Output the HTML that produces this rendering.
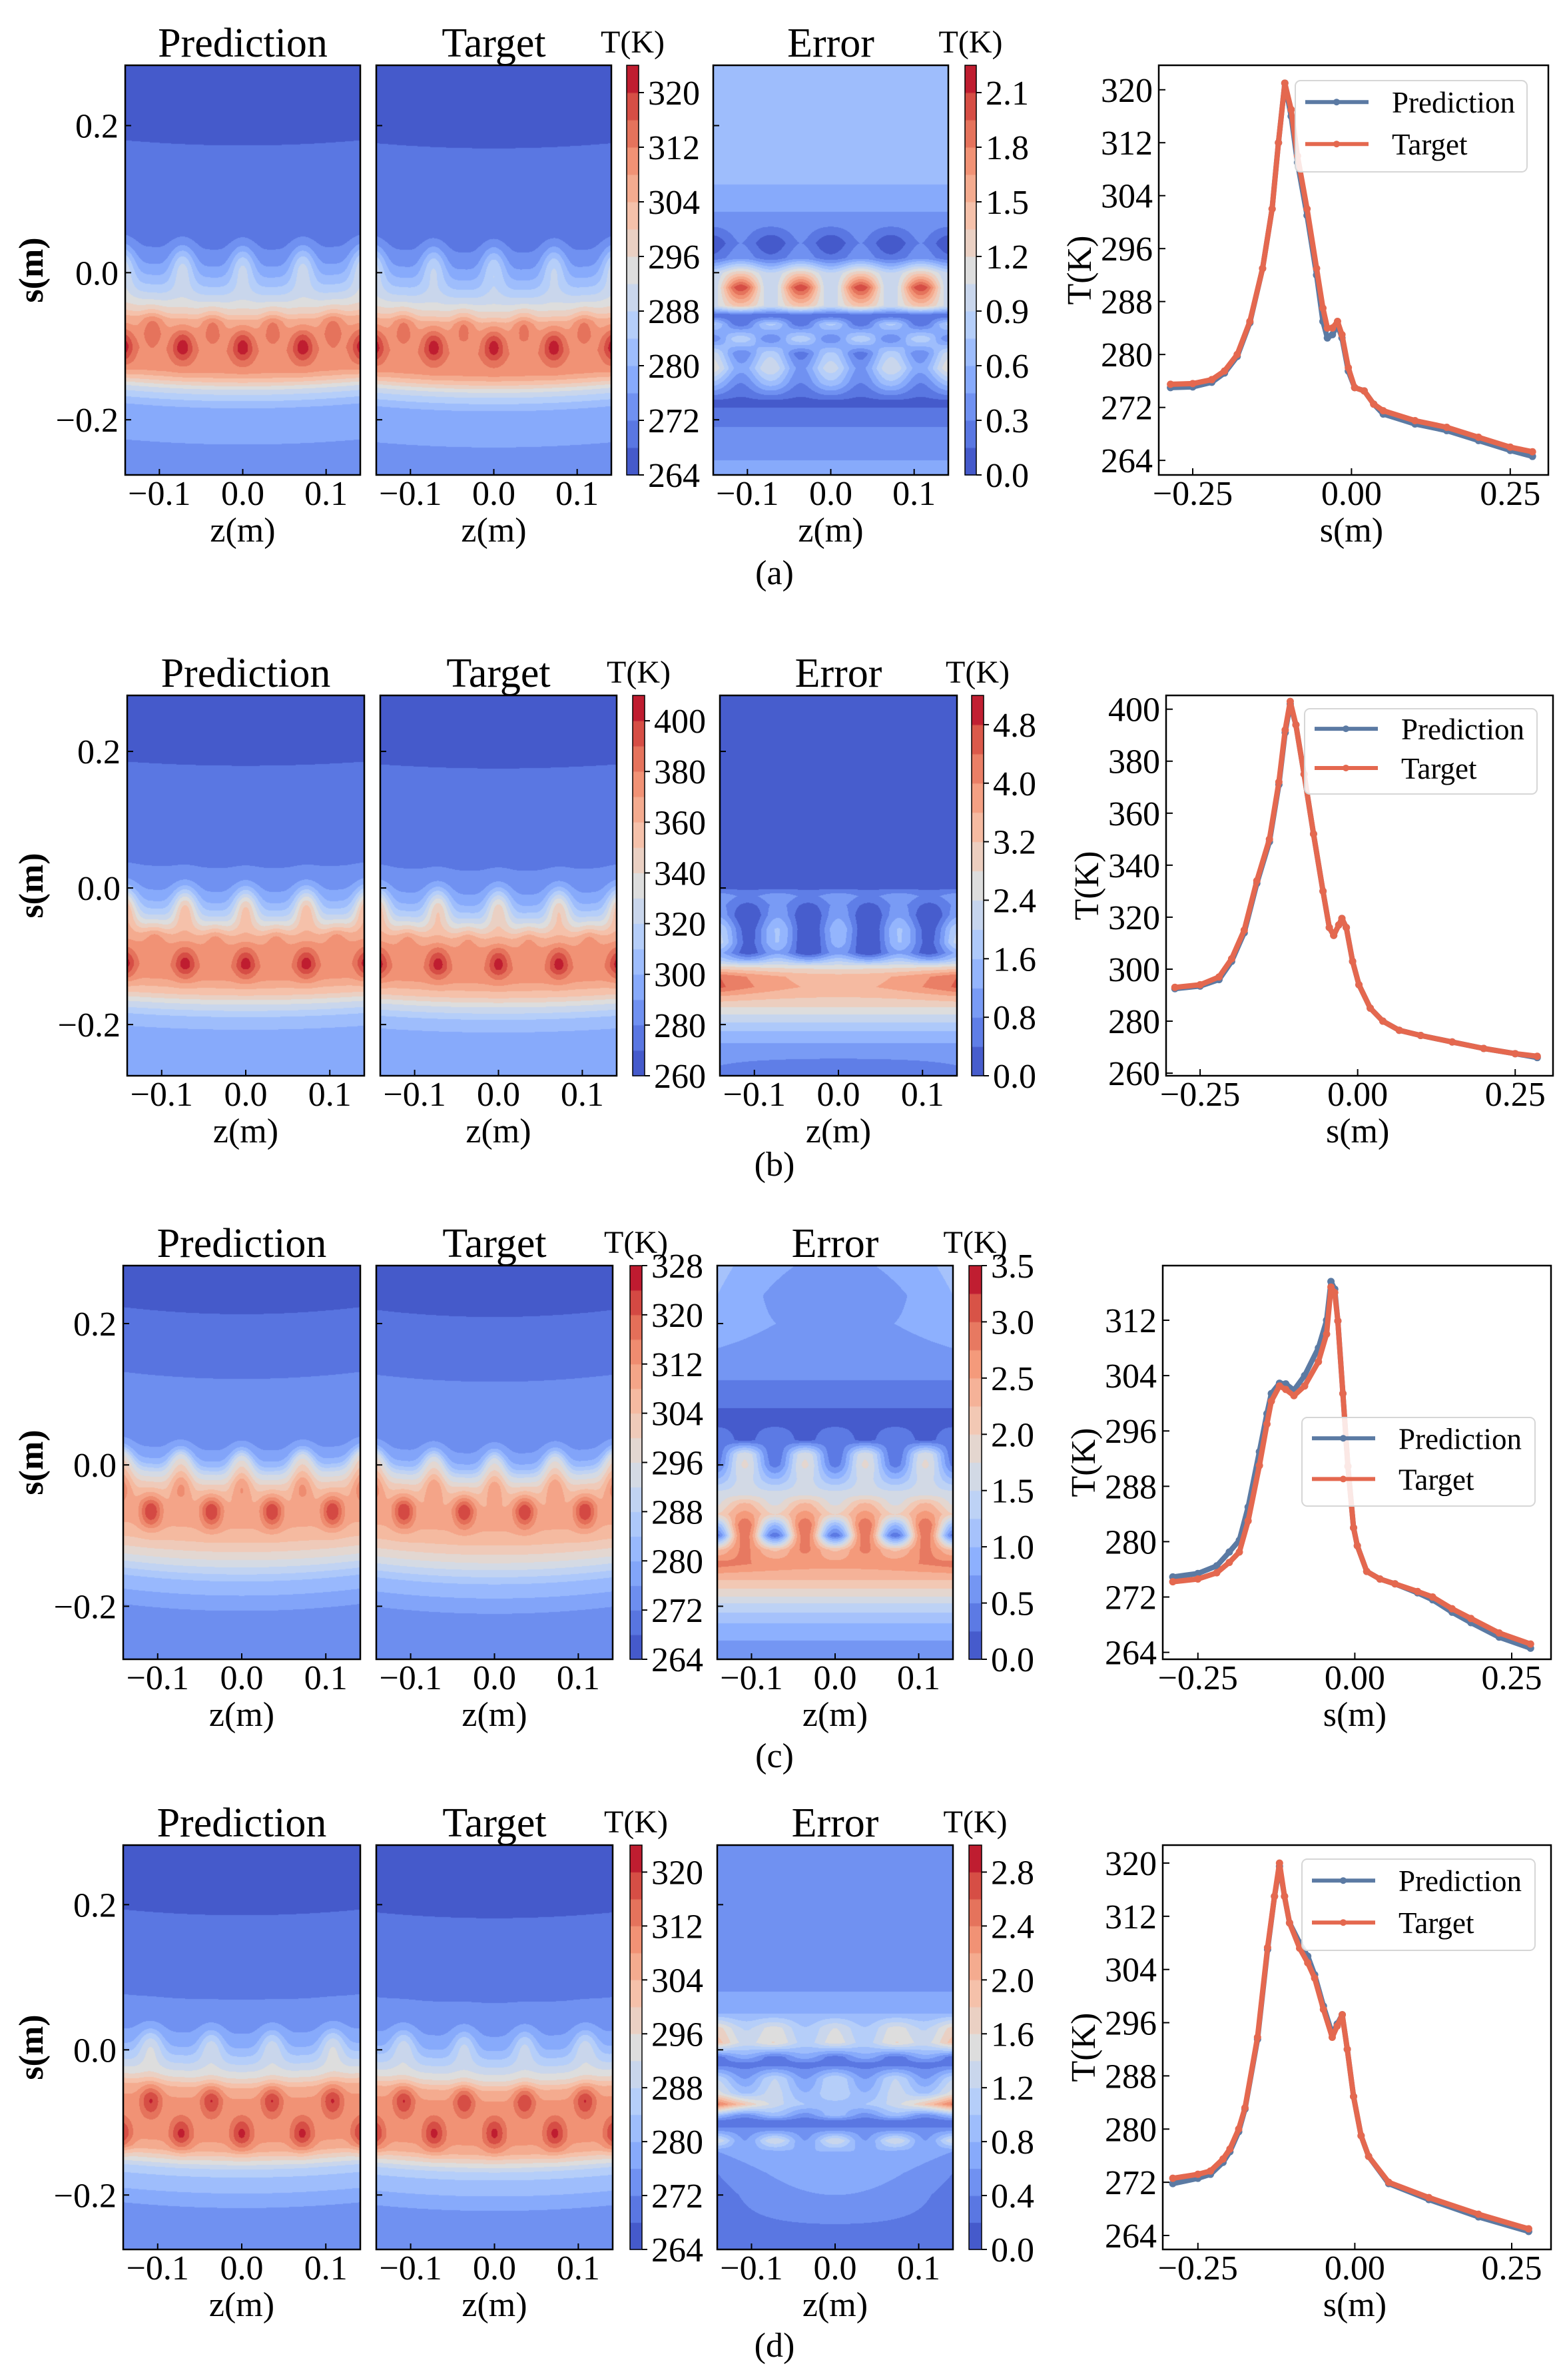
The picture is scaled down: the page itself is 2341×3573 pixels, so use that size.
<!DOCTYPE html>
<html><head><meta charset="utf-8"><title>Prediction vs Target temperature fields</title>
<style>
html,body{margin:0;padding:0;background:#fff;}
#wrap{position:relative;width:2341px;height:3573px;overflow:hidden;background:#fff;}
#fields{position:absolute;left:0;top:0;}
#ov{position:absolute;left:0;top:0;}
text{font-family:"Liberation Serif","DejaVu Serif",serif;fill:#000;}
</style></head>
<body>
<div id="wrap">
<canvas id="fields" width="2341" height="3573"></canvas>
<svg id="ov" width="2341" height="3573" xmlns="http://www.w3.org/2000/svg" font-family="Liberation Serif, DejaVu Serif, serif"></svg>
</div>
<script>
// ---------- data: row (a) ----------
const rowA_lineS   = [-0.285,-0.25,-0.22,-0.2,-0.18,-0.16,-0.14,-0.125,-0.115,-0.105,-0.095,-0.085,-0.07,-0.055,-0.045,-0.038,-0.03,-0.022,-0.015,-0.005,0.005,0.02,0.035,0.05,0.1,0.15,0.2,0.25,0.285];
const rowA_pred    = [275.0,275.1,275.8,277.2,279.7,284.8,293,302,312,321,316,309,301,292,285,282.5,283,284.5,282.5,277.5,275,274.5,272.5,271,269.5,268.5,267,265.5,264.6];
const rowA_target  = [275.5,275.6,276.2,277.5,280,285,293,302,312,321,317,310,302,293,287,284,284,285,283,278,275,274.5,272.5,271.5,270,269,267.5,266,265.3];
const rowA_lineTicks = [264,272,280,288,296,304,312,320];
const rowA_cbTicks   = [264,272,280,288,296,304,312,320];
const rowA_errTicks  = [0.0,0.3,0.6,0.9,1.2,1.5,1.8,2.1];
const rowA_fieldS = [0.28,0.19,0.17,0.05,0.03,0.01,-0.01,-0.03,-0.05,-0.06,-0.08,-0.1,-0.12,-0.13,-0.14,-0.155,-0.17,-0.18,-0.22,-0.24,-0.28];
const rowA_fieldT = [265,266.5,269.5,270.5,273,277,283,290,299,305,309,311,310,308,302,290,283,279,277,274,273];
const rowA_errS    = [0.28,0.12,0.07,0.04,0.02,0.0,-0.02,-0.045,-0.058,-0.07,-0.09,-0.11,-0.13,-0.15,-0.175,-0.2,-0.23,-0.28];
const rowA_errBase = [0.6,0.6,0.4,0.15,0.3,1.1,1.5,1.2,0.15,0.5,0.6,0.5,0.7,0.5,0.1,0.25,0.4,0.5];
const rowA_errMod  = [0,0,0,-0.15,-0.1,-0.2,-0.6,-0.2,0,0.3,-0.3,0.3,0.3,0.2,0,0,0,0];
const rowA_errQuad = [0,0,0,0,0,0,0,0,0,0,0,0.2,0.2,0,0,0,0,0];
// ---------- data: row (b) ----------
const rowB_lineS   = [-0.29,-0.25,-0.22,-0.2,-0.18,-0.16,-0.14,-0.125,-0.115,-0.107,-0.098,-0.085,-0.07,-0.055,-0.045,-0.038,-0.03,-0.025,-0.018,-0.008,0.002,0.02,0.04,0.066,0.1,0.15,0.2,0.25,0.285];
const rowB_pred    = [292.5,293.5,296,303,314,333,349,371,391,402,394,375,352,330,316,313,317,319.5,316,303,294,285,280,276.5,274.5,272,269.5,267.5,266];
const rowB_target  = [293,294,297,304,315,334,350,372,392,403,394,375,352,330,316,313,317,319.5,316,303,294,285,280,276.5,274.5,272,269.5,267.5,266.5];
const rowB_lineTicks = [260,280,300,320,340,360,380,400];
const rowB_cbTicks   = [260,280,300,320,340,360,380,400];
const rowB_errTicks  = [0.0,0.8,1.6,2.4,3.2,4.0,4.8];
const rowB_fieldS = [0.28,0.19,0.18,0.04,0.03,0.0,-0.02,-0.04,-0.055,-0.065,-0.08,-0.11,-0.13,-0.15,-0.165,-0.185,-0.21,-0.28];
const rowB_fieldT = [264,266,274,276,284,290,302,322,342,358,370,376,370,352,330,308,296,290];
const rowB_errS    = [0.28,0.0,-0.012,-0.025,-0.04,-0.06,-0.08,-0.095,-0.105,-0.115,-0.13,-0.145,-0.16,-0.175,-0.19,-0.21,-0.24,-0.28];
const rowB_errBase = [0.3,0.3,0.9,0.6,0.5,0.7,0.6,0.5,1.5,2.6,3.4,3.5,3.2,2.8,2.2,1.6,0.9,0.5];
const rowB_errMod  = [0,0,0.2,0.3,0.6,0.8,0.8,0.5,0.3,0,0,0,0,0,0,0,0,0];
const rowB_errQuad = [0,0,0,0,0,0.5,0.8,0.3,0,0.2,1.0,1.0,0.3,0,0,0,0,0.2];
// ---------- data: row (c) ----------
const rowC_lineS   = [-0.29,-0.25,-0.22,-0.2,-0.184,-0.17,-0.152,-0.14,-0.133,-0.12,-0.11,-0.097,-0.08,-0.058,-0.045,-0.038,-0.032,-0.027,-0.019,-0.011,-0.002,0.004,0.019,0.04,0.064,0.1,0.124,0.155,0.185,0.23,0.28];
const rowC_pred    = [274.9,275.4,276.5,278.5,280.2,285,293,298.5,301.4,302.9,302.8,301.9,304,308,312,317.6,316.5,311.9,301.4,290.9,282,279.4,275.7,274.6,273.9,272.6,271.6,269.8,268.3,266.2,264.6];
const rowC_target  = [274.2,274.6,275.5,277,278.5,283,291,297,300.3,302.5,302,301.1,302.5,306,310,316.8,316,311.9,301.4,290.9,282,279.4,275.7,274.6,273.9,272.8,272,270.3,268.9,266.8,265.2];
const rowC_lineTicks = [264,272,280,288,296,304,312];
const rowC_cbTicks   = [264,272,280,288,296,304,312,320,328];
const rowC_errTicks  = [0.0,0.5,1.0,1.5,2.0,2.5,3.0,3.5];
const rowC_fieldS = [0.28,0.23,0.22,0.135,0.125,0.03,0.01,-0.005,-0.02,-0.035,-0.05,-0.08,-0.1,-0.12,-0.14,-0.16,-0.19,-0.2,-0.28];
const rowC_fieldT = [265,266,269,271,274,276,281,292,300,305,308,308,304,298,290,282,278,275,274];
const rowC_errS    = [0.28,0.24,0.2,0.13,0.1,0.06,0.035,0.015,0.0,-0.02,-0.04,-0.055,-0.07,-0.085,-0.1,-0.12,-0.14,-0.16,-0.18,-0.2,-0.23,-0.28];
const rowC_errBase = [0.7,0.6,0.7,0.6,0.3,0.2,0.3,1.0,1.1,1.3,1.6,2.0,2.3,2.0,1.6,2.5,2.6,2.3,1.9,1.4,0.9,0.5];
const rowC_errMod  = [0,0,0,0,0,0,0.1,-0.7,-0.7,-0.3,0,-0.3,-0.3,-1.0,-1.3,-0.3,0,0,0,0,0,0];
const rowC_errQuad = [0.4,0.4,0.2,0,0,0,0,0,0,0,0,0,0,0,0,0,0.3,0,0,0,0,0];
// ---------- data: row (d) ----------
const rowD_lineS   = [-0.29,-0.25,-0.23,-0.21,-0.199,-0.185,-0.175,-0.155,-0.139,-0.128,-0.12,-0.112,-0.104,-0.088,-0.075,-0.064,-0.05,-0.036,-0.028,-0.02,-0.012,-0.002,0.01,0.022,0.054,0.118,0.197,0.277];
const rowD_pred    = [271.8,272.6,273.2,275,276.6,279.6,283,293.5,307,315,319.5,315,311,308,306,303.2,298.5,294.3,295.8,297.2,292,284.9,279,275.9,271.8,269.4,266.8,264.6];
const rowD_target  = [272.6,273.2,273.7,275.5,277,280,283.2,293.8,307.3,315,320,315,311,307.2,305,302.7,298,293.8,295.5,297.2,292,284.9,279,275.9,272,269.7,267.2,265];
const rowD_lineTicks = [264,272,280,288,296,304,312,320];
const rowD_cbTicks   = [264,272,280,288,296,304,312,320];
const rowD_errTicks  = [0.0,0.4,0.8,1.2,1.6,2.0,2.4,2.8];
const rowD_fieldS = [0.28,0.2,0.19,0.08,0.07,0.03,0.01,-0.01,-0.03,-0.045,-0.06,-0.09,-0.115,-0.13,-0.145,-0.16,-0.18,-0.2,-0.21,-0.28];
const rowD_fieldT = [265,266,269,271,274,276,280,287,295,304,308,309,309,306,296,286,281,279,276,275];
const rowD_errS    = [0.28,0.15,0.08,0.05,0.03,0.01,-0.01,-0.02,-0.04,-0.06,-0.075,-0.09,-0.1,-0.11,-0.125,-0.14,-0.17,-0.2,-0.24,-0.28];
const rowD_errBase = [0.45,0.5,0.6,0.8,1.2,1.3,0.5,0.3,0.9,1.0,0.9,0.7,0.2,0.5,1.0,0.8,0.7,0.6,0.4,0.4];
const rowD_errMod  = [0,0,0,0,0.2,0.2,-0.2,0,0.3,0.2,0,0.2,0,0,0.4,0,0,0,0,0];
const rowD_errQuad = [0,0,0,0,0.3,0.4,0,0,0,0.3,1.6,0,0,0,0,-0.2,-0.3,-0.3,-0.1,0];
// shared tick labels
const zTicks = [-0.1,0.0,0.1];
const sTicks = [0.2,0.0,-0.2];
const lineXTicks = [-0.25,0.0,0.25];

// ---------- layout (positions only) ----------
const rows = [
 {id:'a',label:'(a)',top:98,bot:713,pred:[188,541],targ:[565,918],cb:[941,959],err:[1071,1424],ecb:[1449,1466],
  line:[1740,2325],lineYDom:[261.8,323.7],lineXDom:[-0.3035,0.31],cbDom:[264,324],cbStep:4,errDom:[0,2.25],errStep:0.15,
  labY:877,legend:[1945,121,348,137],
  lineS:rowA_lineS,pred_:rowA_pred,targ_:rowA_target,lineTicks:rowA_lineTicks,cbTicks:rowA_cbTicks,errTicks:rowA_errTicks,
  fS:rowA_fieldS,fT:rowA_fieldT,eS:rowA_errS,eB:rowA_errBase,eM:rowA_errMod,eQ:rowA_errQuad,
  curv:0.007,fing:{s:0.015,w:0.035,amp:0.042,z0:0},dots:[{s:-0.1,z0:0,amp:12},{s:-0.072,z0:0.036,amp:7}]},
 {id:'b',label:'(b)',top:1044,bot:1615,pred:[191,547],targ:[571,926],cb:[950,968],err:[1081,1437],ecb:[1459,1477],
  line:[1751,2332],lineYDom:[259,405.3],lineXDom:[-0.304,0.31],cbDom:[260,410],cbStep:10,errDom:[0,5.2],errStep:0.4,
  labY:1765,legend:[1959,1064,349,128],
  lineS:rowB_lineS,pred_:rowB_pred,targ_:rowB_target,lineTicks:rowB_lineTicks,cbTicks:rowB_cbTicks,errTicks:rowB_errTicks,
  fS:rowB_fieldS,fT:rowB_fieldT,eS:rowB_errS,eB:rowB_errBase,eM:rowB_errMod,eQ:rowB_errQuad,
  curv:0.006,fing:{s:-0.02,w:0.035,amp:0.04,z0:0},dots:[{s:-0.11,z0:0,amp:30},{s:-0.07,z0:0.036,amp:12}]},
 {id:'c',label:'(c)',top:1900,bot:2491,pred:[185,541],targ:[565,920],cb:[946,964],err:[1077,1431],ecb:[1455,1474],
  line:[1746,2329],lineYDom:[263,319.9],lineXDom:[-0.306,0.3126],cbDom:[264,328],cbStep:4,errDom:[0,3.5],errStep:0.25,
  labY:2653,legend:[1955,2128,350,133],
  lineS:rowC_lineS,pred_:rowC_pred,targ_:rowC_target,lineTicks:rowC_lineTicks,cbTicks:rowC_cbTicks,errTicks:rowC_errTicks,
  fS:rowC_fieldS,fT:rowC_fieldT,eS:rowC_errS,eB:rowC_errBase,eM:rowC_errMod,eQ:rowC_errQuad,
  curv:0.01,fing:{s:0.01,w:0.03,amp:0.028,z0:0},dots:[{s:-0.066,z0:0.036,amp:16},{s:-0.03,z0:0,amp:10}]},
 {id:'d',label:'(d)',top:2770,bot:3377,pred:[185,541],targ:[565,920],cb:[946,964],err:[1077,1431],ecb:[1455,1474],
  line:[1746,2329],lineYDom:[261.9,322.7],lineXDom:[-0.306,0.3126],cbDom:[264,324],cbStep:4,errDom:[0,3.0],errStep:0.2,
  labY:3538,legend:[1955,2791,350,137],
  lineS:rowD_lineS,pred_:rowD_pred,targ_:rowD_target,lineTicks:rowD_lineTicks,cbTicks:rowD_cbTicks,errTicks:rowD_errTicks,
  fS:rowD_fieldS,fT:rowD_fieldT,eS:rowD_errS,eB:rowD_errBase,eM:rowD_errMod,eQ:rowD_errQuad,
  curv:0.008,fing:{s:0.012,w:0.03,amp:0.032,z0:0.036},dots:[{s:-0.07,z0:0.036,amp:12},{s:-0.115,z0:0,amp:12}]}
];
const S_DOM=[-0.275,0.282], Z_DOM=[-0.141,0.141];
const PRED_COLOR='#5b7aa3', TARG_COLOR='#e4684f';
const SVGNS='http://www.w3.org/2000/svg';
const svg=document.getElementById('ov');
const ctx=document.getElementById('fields').getContext('2d');

// ---------- helpers ----------
const CM=[[0,59,76,192],[0.125,98,130,234],[0.25,141,176,254],[0.375,184,208,249],[0.5,221,221,221],[0.625,245,196,173],[0.75,244,154,123],[0.875,222,96,77],[1,180,4,38]];
function cmap(t){t=Math.max(0,Math.min(1,t));for(let i=1;i<CM.length;i++){if(t<=CM[i][0]){const a=CM[i-1],b=CM[i],u=(t-a[0])/(b[0]-a[0]);return [a[1]+u*(b[1]-a[1]),a[2]+u*(b[2]-a[2]),a[3]+u*(b[3]-a[3])];}}return CM[8].slice(1);}
function asc(s,v){const idx=s.map((_,i)=>i).sort((a,b)=>s[a]-s[b]);return [idx.map(i=>s[i]),idx.map(i=>v[i])];}
function interp(xs,ys,x){if(x<=xs[0])return ys[0];const n=xs.length;if(x>=xs[n-1])return ys[n-1];for(let i=1;i<n;i++){if(x<=xs[i]){const t=(x-xs[i-1])/(xs[i]-xs[i-1]);return ys[i-1]+t*(ys[i]-ys[i-1]);}}return ys[n-1];}
function lin(d0,d1,r0,r1){return v=>r0+(v-d0)/(d1-d0)*(r1-r0);}
function mk(tag,attrs,parent){const e=document.createElementNS(SVGNS,tag);for(const k in attrs)e.setAttribute(k,attrs[k]);(parent||svg).appendChild(e);return e;}
function txt(x,y,s,size,anchor,parent){const e=mk('text',{x:x,y:y,'font-size':size,'text-anchor':anchor||'middle','font-family':'Liberation Serif, DejaVu Serif, serif'},parent);e.textContent=s;return e;}
function fmt(v,d){const s=Math.abs(v).toFixed(d);return (v<0?'\u2212':'')+s;}
const K=2*Math.PI/0.072;

function drawField(r,x0,x1,kind){
  const y0=r.top,y1=r.bot,w=x1-x0,h=y1-y0;
  const img=ctx.createImageData(w,h);
  const [fs,ft]=asc(r.fS,r.fT);
  const [es,eb]=asc(r.eS,r.eB),[,em]=asc(r.eS,r.eM),[,eq]=asc(r.eS,r.eQ);
  const dom=kind==='err'?r.errDom:r.cbDom, step=kind==='err'?r.errStep:r.cbStep;
  const nb=Math.round((dom[1]-dom[0])/step);
  for(let py=0;py<h;py++){
    const s=S_DOM[1]-(py+0.5)/h*(S_DOM[1]-S_DOM[0]);
    for(let px=0;px<w;px++){
      const z=Z_DOM[0]+(px+0.5)/w*(Z_DOM[1]-Z_DOM[0]);
      let v;
      if(kind==='err'){
        v=interp(es,eb,s)+interp(es,em,s)*Math.cos(K*z)+interp(es,eq,s)*Math.pow(z/0.141,2);
      }else{
        let se=s+r.curv*(1-Math.pow(z/0.141,2))+(kind==='targ'?0.004:0);
        const f=r.fing;
        se-=f.amp*Math.exp(-Math.pow((s-f.s)/f.w,2))*Math.pow((1+Math.cos(K*(z-f.z0)))/2,2);
        v=interp(fs,ft,se);
        for(const d of r.dots){v+=d.amp*Math.exp(-Math.pow((s-d.s)/0.022,2))*Math.pow((1+Math.cos(K*(z-d.z0)))/2,3);}
      }
      let bi=Math.floor((v-dom[0])/step);bi=Math.max(0,Math.min(nb-1,bi));
      const c=cmap((bi+0.5)/nb);
      const o=(py*w+px)*4;img.data[o]=c[0];img.data[o+1]=c[1];img.data[o+2]=c[2];img.data[o+3]=255;
    }
  }
  ctx.putImageData(img,x0,y0);
}
function drawColorbar(r,cb,dom,step){
  const nb=Math.round((dom[1]-dom[0])/step);
  const ys=lin(dom[0],dom[1],r.bot,r.top);
  for(let i=0;i<nb;i++){
    const c=cmap((i+0.5)/nb);
    ctx.fillStyle='rgb('+c.map(Math.round).join(',')+')';
    const ya=ys(dom[0]+(i+1)*step),yb=ys(dom[0]+i*step);
    ctx.fillRect(cb[0],Math.max(r.top,ya),cb[1]-cb[0],yb-Math.max(r.top,ya)+0.5);
  }
}

// ---------- draw ----------
rows.forEach(r=>{
  const g=mk('g',{});
  
  
  drawField(r,r.pred[0],r.pred[1],'pred');
  drawField(r,r.targ[0],r.targ[1],'targ');
  drawField(r,r.err[0],r.err[1],'err');
  drawColorbar(r,r.cb,r.cbDom,r.cbStep);
  drawColorbar(r,r.ecb,r.errDom,r.errStep);
  const ys=lin(S_DOM[0],S_DOM[1],r.bot,r.top);
  const panels=[['prediction',r.pred,'Prediction'],['target',r.targ,'Target'],['error',r.err,'Error']];
  panels.forEach(([nm,px,title],pi)=>{
    const pg=mk('g',{},g);
    
    
    const fr=mk('rect',{x:px[0],y:r.top,width:px[1]-px[0],height:r.bot-r.top,fill:'none',stroke:'#000','stroke-width':2.5},pg);
    
    
    const t=txt((px[0]+px[1])/2,r.top-13,title,62,'middle',pg);
    
    
    const xs=lin(Z_DOM[0],Z_DOM[1],px[0],px[1]);
    zTicks.forEach(v=>{
      const tk=mk('line',{x1:xs(v),x2:xs(v),y1:r.bot,y2:r.bot-9,stroke:'#000','stroke-width':2},pg);
      
      
      const tl=txt(xs(v),r.bot+45,fmt(v,1),52,'middle',pg);
      
      
    });
    sTicks.forEach(v=>{
      const tk=mk('line',{x1:px[0],x2:px[0]+9,y1:ys(v),y2:ys(v),stroke:'#000','stroke-width':2},pg);
      
      
      if(pi===0){
        const tl=txt(px[0]-10,ys(v)+18,fmt(v,1),52,'end',pg);
        
        
      }
    });
    const xl=txt((px[0]+px[1])/2,r.bot+100,'z(m)',52,'middle',pg);
    
    
  });
  const yl=mk('text',{x:0,y:0,'font-size':52,'font-weight':'bold','text-anchor':'middle','font-family':'Liberation Serif, serif',transform:'translate(64,'+((r.top+r.bot)/2)+') rotate(-90)'},g);
  yl.textContent='s(m)';
  
  
  // colorbars
  [[r.cb,r.cbDom,r.cbTicks,0,'temperature-colorbar'],[r.ecb,r.errDom,r.errTicks,1,'error-colorbar']].forEach(([cb,dom,ticks,isErr,nm])=>{
    const cg=mk('g',{},g);
    
    
    const cys=lin(dom[0],dom[1],r.bot,r.top);
    const fr=mk('rect',{x:cb[0],y:r.top,width:cb[1]-cb[0],height:r.bot-r.top,fill:'none',stroke:'#000','stroke-width':1.5},cg);
    
    
    ticks.forEach(v=>{
      const tk=mk('line',{x1:cb[1],x2:cb[1]+8,y1:cys(v),y2:cys(v),stroke:'#000','stroke-width':2},cg);
      
      
      const tl=txt(cb[1]+14,cys(v)+18,isErr?v.toFixed(1):String(v),52,'start',cg);
      
      
    });
    const ct=txt((cb[0]+cb[1])/2,r.top-19,'T(K)',48,'middle',cg);
    
    
  });
  // panel label
  const pl=txt(1163,r.labY,r.label,52,'middle',g);
  
  
  // line chart
  const lg=mk('g',{},g);
  
  
  const lx=lin(r.lineXDom[0],r.lineXDom[1],r.line[0],r.line[1]);
  const ly=lin(r.lineYDom[0],r.lineYDom[1],r.bot,r.top);
  const clipId='clip'+r.id;
  const cp=mk('clipPath',{id:clipId},lg);
  mk('rect',{x:r.line[0],y:r.top,width:r.line[1]-r.line[0],height:r.bot-r.top},cp);
  [[r.pred_,PRED_COLOR,'prediction-series'],[r.targ_,TARG_COLOR,'target-series']].forEach(([vals,col,nm])=>{
    const sg=mk('g',{'clip-path':'url(#'+clipId+')'},lg);
    
    
    const d=r.lineS.map((s,i)=>(i?'L':'M')+lx(s).toFixed(1)+','+ly(vals[i]).toFixed(1)).join(' ');
    const p=mk('path',{d:d,fill:'none',stroke:col,'stroke-width':8,'stroke-linejoin':'round','stroke-linecap':'round'},sg);
    
    
    r.lineS.forEach((s,i)=>{
      const c=mk('circle',{cx:lx(s),cy:ly(vals[i]),r:5.5,fill:col},sg);
      
      
    });
  });
  const af=mk('rect',{x:r.line[0],y:r.top,width:r.line[1]-r.line[0],height:r.bot-r.top,fill:'none',stroke:'#000','stroke-width':2.5},lg);
  
  
  r.lineTicks.forEach(v=>{
    const tk=mk('line',{x1:r.line[0],x2:r.line[0]+10,y1:ly(v),y2:ly(v),stroke:'#000','stroke-width':2},lg);
    
    
    const tl=txt(r.line[0]-9,ly(v)+18,String(v),52,'end',lg);
    
    
  });
  lineXTicks.forEach(v=>{
    const tk=mk('line',{x1:lx(v),x2:lx(v),y1:r.bot,y2:r.bot-10,stroke:'#000','stroke-width':2},lg);
    
    
    const tl=txt(lx(v),r.bot+45,fmt(v,2),52,'middle',lg);
    
    
  });
  const sx=txt(lx(0),r.bot+100,'s(m)',52,'middle',lg);
  
  
  const ty=mk('text',{x:0,y:0,'font-size':52,'text-anchor':'middle','font-family':'Liberation Serif, serif',transform:'translate('+(r.line[0]-102)+','+((r.top+r.bot)/2)+') rotate(-90)'},lg);
  ty.textContent='T(K)';
  
  
  // legend
  const [gx,gy,gw,gh]=r.legend;
  const leg=mk('g',{},lg);
  
  
  mk('rect',{x:gx,y:gy,width:gw,height:gh,rx:8,fill:'rgba(255,255,255,0.85)',stroke:'#d6d6d6','stroke-width':2},leg);
  [['Prediction',PRED_COLOR,gy+gh*0.235],['Target',TARG_COLOR,gy+gh*0.695]].forEach(([lab,col,yy])=>{
    const e=mk('g',{},leg);
    
    
    mk('line',{x1:gx+15,x2:gx+110,y1:yy,y2:yy,stroke:col,'stroke-width':6},e);
    mk('circle',{cx:gx+62,cy:yy,r:5,fill:col},e);
    txt(gx+145,yy+16,lab,45,'start',e);
  });
});
</script>
</body></html>
